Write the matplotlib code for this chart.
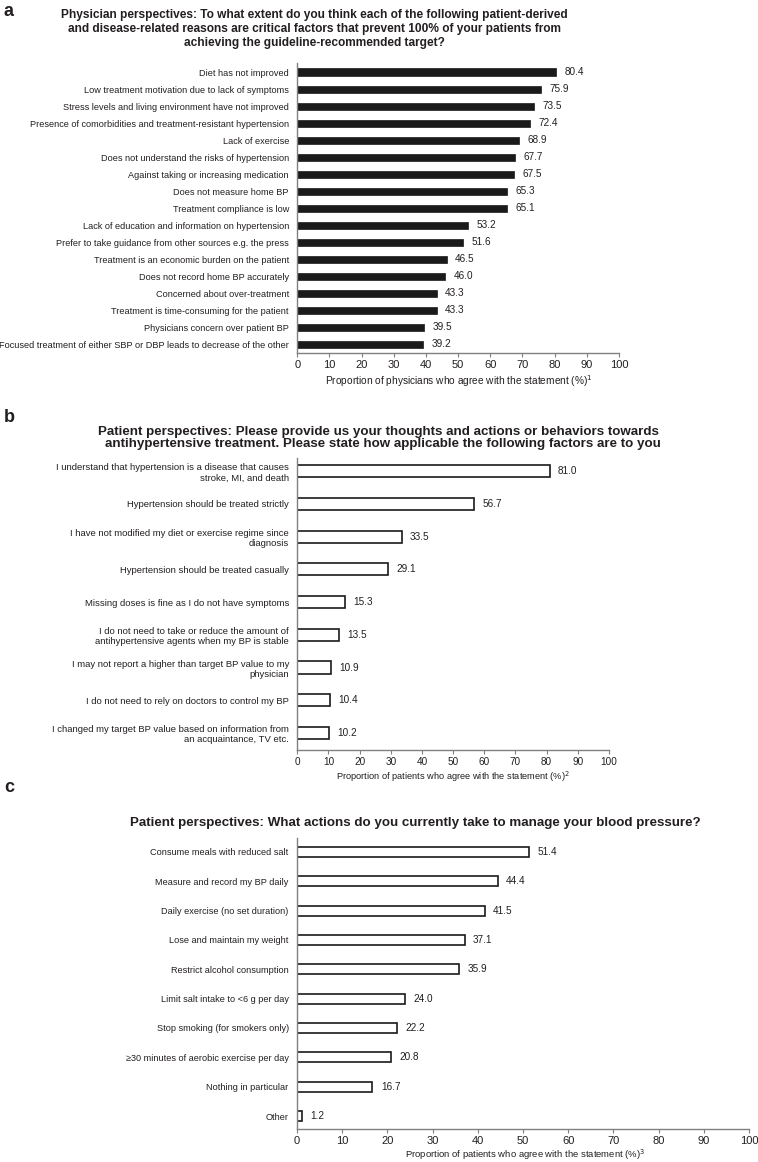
import matplotlib
matplotlib.use("Agg")
import matplotlib.pyplot as plt
from matplotlib import font_manager as fm

W, H = 758, 1162

names = {f.name for f in fm.fontManager.ttflist}
NARROW = "Liberation Sans Narrow" if "Liberation Sans Narrow" in names else "Liberation Sans"
plt.rcParams['font.family'] = ['Liberation Sans', 'DejaVu Sans']

TXT = "#231f20"
SPINE = "#808080"

# ---------------- data ----------------
a_labels = [
    "Diet has not improved",
    "Low treatment motivation due to lack of symptoms",
    "Stress levels and living environment have not improved",
    "Presence of comorbidities and treatment-resistant hypertension",
    "Lack of exercise",
    "Does not understand the risks of hypertension",
    "Against taking or increasing medication",
    "Does not measure home BP",
    "Treatment compliance is low",
    "Lack of education and information on hypertension",
    "Prefer to take guidance from other sources e.g. the press",
    "Treatment is an economic burden on the patient",
    "Does not record home BP accurately",
    "Concerned about over-treatment",
    "Treatment is time-consuming for the patient",
    "Physicians concern over patient BP",
    "Focused treatment of either SBP or DBP leads to decrease of the other",
]
a_values = [80.4, 75.9, 73.5, 72.4, 68.9, 67.7, 67.5, 65.3, 65.1, 53.2, 51.6,
            46.5, 46.0, 43.3, 43.3, 39.5, 39.2]

b_labels = [
    "I understand that hypertension is a disease that causes\nstroke, MI, and death",
    "Hypertension should be treated strictly",
    "I have not modified my diet or exercise regime since\ndiagnosis",
    "Hypertension should be treated casually",
    "Missing doses is fine as I do not have symptoms",
    "I do not need to take or reduce the amount of\nantihypertensive agents when my BP is stable",
    "I may not report a higher than target BP value to my\nphysician",
    "I do not need to rely on doctors to control my BP",
    "I changed my target BP value based on information from\nan acquaintance, TV etc.",
]
b_values = [81.0, 56.7, 33.5, 29.1, 15.3, 13.5, 10.9, 10.4, 10.2]

c_labels = [
    "Consume meals with reduced salt",
    "Measure and record my BP daily",
    "Daily exercise (no set duration)",
    "Lose and maintain my weight",
    "Restrict alcohol consumption",
    "Limit salt intake to <6 g per day",
    "Stop smoking (for smokers only)",
    "\u226530 minutes of aerobic exercise per day",
    "Nothing in particular",
    "Other",
]
c_values = [51.4, 44.4, 41.5, 37.1, 35.9, 24.0, 22.2, 20.8, 16.7, 1.2]

x_ticks = list(range(0, 101, 10))

title_a = ("Physician perspectives: To what extent do you think each of the following patient-derived\n"
           "and disease-related reasons are critical factors that prevent 100% of your patients from\n"
           "achieving the guideline-recommended target?")
title_b_lines = [
    "Patient perspectives: Please provide us your thoughts and actions or behaviors towards",
    "antihypertensive treatment. Please state how applicable the following factors are to you",
]
title_c = "Patient perspectives: What actions do you currently take to manage your blood pressure?"
xlabels = [
    r"Proportion of physicians who agree with the statement (%)$^{1}$",
    r"Proportion of patients who agree with the statement (%)$^{2}$",
    r"Proportion of patients who agree with the statement (%)$^{3}$",
]

fig = plt.figure(figsize=(W / 100, H / 100), dpi=100)


def add_ax(left, top, right, bottom):
    return fig.add_axes([left / W, 1 - bottom / H, (right - left) / W, (bottom - top) / H])


def ftext(x, y, s, **kw):
    fig.text(x / W, 1 - y / H, s, **kw)


def style(ax, labels, values, filled, height, ylim, lab_fs, tick_fs, val_fs, tick_family):
    n = len(labels)
    pos = list(range(n))
    if filled:
        ax.barh(pos, values, height=height, color="#1a1a1a", edgecolor="#1a1a1a", linewidth=0.5)
    else:
        ax.barh(pos, values, height=height, color="white", edgecolor="#1a1a1a", linewidth=1.2)
    for p, v in zip(pos, values):
        ax.annotate(f"{v:.1f}", (v, p), xytext=(6, 0), textcoords="offset points",
                    va="center", ha="left", fontsize=val_fs, color=TXT)
    ax.set_xlim(0, 100)
    ax.set_ylim(*ylim)
    ax.set_yticks(pos)
    ax.set_yticklabels(labels, fontsize=lab_fs, color=TXT, ha="right",
                       multialignment="right")
    ax.tick_params(axis="y", length=0, pad=6)
    ax.set_xticks(x_ticks)
    ax.set_xticklabels([str(t) for t in x_ticks], fontsize=tick_fs, color=TXT,
                       family=tick_family)
    ax.tick_params(axis="x", length=3, width=0.8, color=SPINE, pad=2)
    for s in ("top", "right"):
        ax.spines[s].set_visible(False)
    for s in ("left", "bottom"):
        ax.spines[s].set_color(SPINE)
        ax.spines[s].set_linewidth(1.0)


# ---- panel a ----
axa = add_ax(297.3, 62.7, 619, 353)
style(axa, a_labels, a_values, True, 0.42, (16.5, -0.55), 6.6, 8, 7.2, "Liberation Sans")
ftext(4, 11, "a", fontsize=13, fontweight="bold", color=TXT, va="center")
ftext(314, 29, title_a, fontsize=8.6, fontweight="bold", color=TXT,
      ha="center", va="center", family=NARROW, linespacing=1.25)
ftext(459, 381, xlabels[0], fontsize=7.3, color=TXT, ha="center", va="center")

# ---- panel b ----
axb = add_ax(297.3, 458, 609, 750)
style(axb, b_labels, b_values, False, 0.37, (8.52, -0.4), 6.8, 7.2, 7.2, NARROW)
ftext(4, 418, "b", fontsize=13, fontweight="bold", color=TXT, va="center")
ftext(378, 432, title_b_lines[0], fontsize=9.6, fontweight="bold", color=TXT,
      ha="center", va="center")
ftext(383, 444, title_b_lines[1], fontsize=9.6, fontweight="bold", color=TXT,
      ha="center", va="center")
ftext(453, 777, xlabels[1], fontsize=6.7, color=TXT, ha="center", va="center",
      family=NARROW)

# ---- panel c ----
axc = add_ax(297, 837.7, 749, 1129)
style(axc, c_labels, c_values, False, 0.34, (9.44, -0.48), 6.6, 8, 7.2, "Liberation Sans")
ftext(4, 788, "c", fontsize=13, fontweight="bold", color=TXT, va="center")
ftext(415, 823, title_c, fontsize=9.6, fontweight="bold", color=TXT,
      ha="center", va="center")
ftext(525, 1155, xlabels[2], fontsize=6.8, color=TXT, ha="center", va="center")

fig.savefig("out.png", dpi=100)
